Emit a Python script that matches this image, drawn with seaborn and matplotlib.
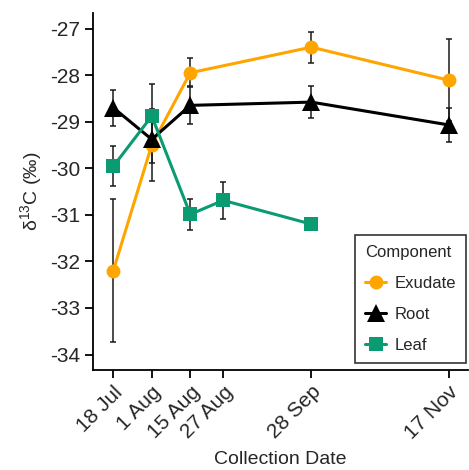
import numpy as np
import pandas as pd
import matplotlib
matplotlib.use("Agg")
import matplotlib.pyplot as plt
import seaborn as sns

# -------- data --------
DATES = ["2019-07-18", "2019-08-01", "2019-08-15", "2019-08-27", "2019-09-28", "2019-11-17"]
TICK_LABELS = ["18 Jul", "1 Aug", "15 Aug", "27 Aug", "28 Sep", "17 Nov"]
Y_TICKS = [-34, -33, -32, -31, -30, -29, -28, -27]

exudate_dates = ["2019-07-18", "2019-08-01", "2019-08-15", "2019-09-28", "2019-11-17"]
exudate_mean = [-32.20, -29.50, -27.95, -27.40, -28.11]
exudate_err = [1.53, 0.78, 0.31, 0.33, 0.88]

root_dates = ["2019-07-18", "2019-08-01", "2019-08-15", "2019-09-28", "2019-11-17"]
root_mean = [-28.70, -29.38, -28.65, -28.58, -29.07]
root_err = [0.39, 0.50, 0.41, 0.35, 0.37]

leaf_dates = ["2019-07-18", "2019-08-01", "2019-08-15", "2019-08-27", "2019-09-28"]
leaf_mean = [-29.96, -28.88, -30.99, -30.69, -31.20]
leaf_err = [0.43, 0.68, 0.34, 0.40, 0.12]
# ------------------------------------------------

COMPONENTS = ["Exudate", "Root", "Leaf"]
COLORS = {"Exudate": "#FFA500", "Root": "#000000", "Leaf": "#0A9B73"}
MARKERS = {"Exudate": "o", "Root": "^", "Leaf": "s"}
SIZES = {"Exudate": 10, "Root": 13, "Leaf": 10.5}

frames = []
for name, d, m, e in [("Exudate", exudate_dates, exudate_mean, exudate_err),
                      ("Root", root_dates, root_mean, root_err),
                      ("Leaf", leaf_dates, leaf_mean, leaf_err)]:
    frames.append(pd.DataFrame({"date": pd.to_datetime(d), "d13C": m, "err": e, "Component": name}))
df = pd.concat(frames, ignore_index=True)

sns.set_style("white")
plt.rcParams["font.family"] = ["Liberation Sans", "DejaVu Sans"]
plt.rcParams["mathtext.fontset"] = "custom"
plt.rcParams["mathtext.rm"] = "Liberation Sans"

fig = plt.figure(figsize=(4.69, 4.70), dpi=100)
ax = fig.add_axes([0.198, 0.213, 0.800, 0.759])

# error bars first so markers sit on top
for name in COMPONENTS:
    sub = df[df["Component"] == name]
    ax.errorbar(sub["date"], sub["d13C"], yerr=sub["err"], fmt="none",
                ecolor="#1a1a1a", elinewidth=1.1, capsize=2.3, capthick=1.1, zorder=1)

for name in COMPONENTS:
    sub = df[df["Component"] == name]
    sns.lineplot(data=sub, x="date", y="d13C", ax=ax, color=COLORS[name],
                 marker=MARKERS[name], markersize=SIZES[name], markeredgewidth=0,
                 linewidth=2.2, label=name, zorder=3, estimator=None)

ax.set_xlim(pd.Timestamp("2019-07-10 14:00"), pd.Timestamp("2019-11-24"))
ax.set_ylim(-34.33, -26.67)
ax.set_yticks(Y_TICKS)
ax.set_yticklabels([str(v) for v in Y_TICKS])
ax.set_xticks(pd.to_datetime(DATES))
ax.set_xticklabels(TICK_LABELS, rotation=45, ha="right", rotation_mode="anchor")

ax.tick_params(axis="both", labelsize=15, length=6, width=1.3, color="black",
               direction="out", bottom=True, left=True, pad=3)
for side in ["top", "right"]:
    ax.spines[side].set_visible(False)
for side in ["left", "bottom"]:
    ax.spines[side].set_color("black")
    ax.spines[side].set_linewidth(1.3)

ax.set_xlabel("Collection Date", fontsize=14, labelpad=6)
ax.set_ylabel("δ$^{13}$C (‰)", fontsize=14, labelpad=4)

handles, labels = ax.get_legend_handles_labels()
leg = ax.legend(handles, labels, title="Component", loc="lower right",
                bbox_to_anchor=(0.995, 0.02), borderaxespad=0, fontsize=12, title_fontsize=12,
                frameon=True, fancybox=False, edgecolor="black", alignment="left",
                handlelength=1.3, handletextpad=0.5, labelspacing=0.95, borderpad=0.6)
leg.get_frame().set_linewidth(1.2)

fig.savefig("out.png", dpi=100)
